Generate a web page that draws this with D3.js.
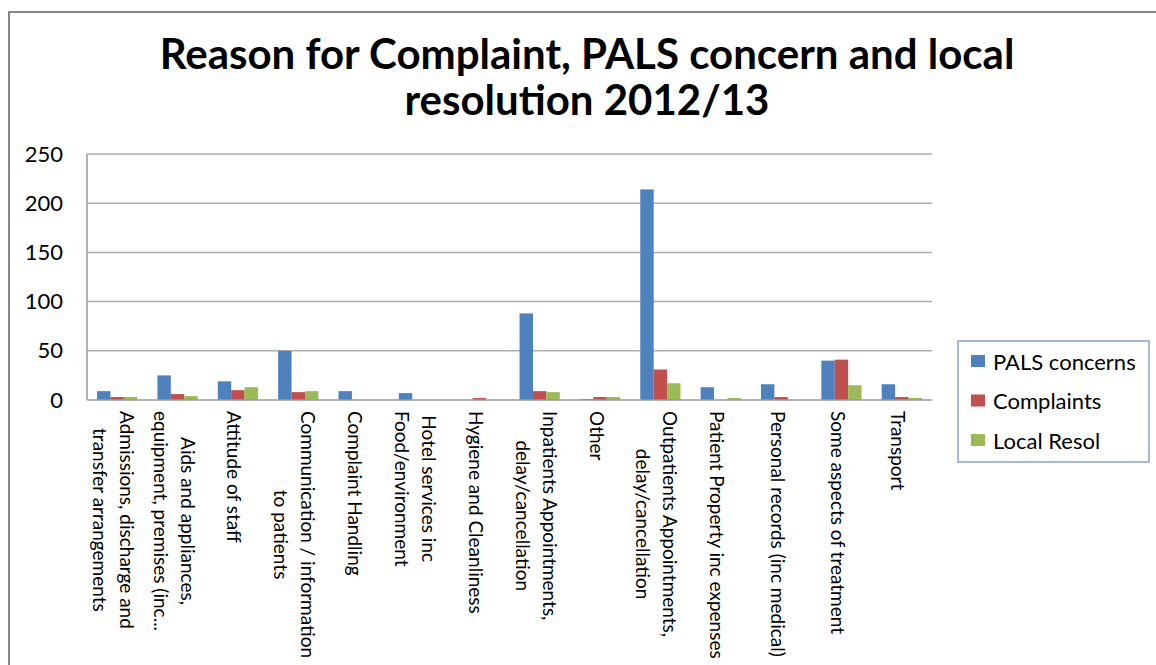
<!DOCTYPE html>
<html>
<head>
<meta charset="utf-8">
<script src="https://cdn.jsdelivr.net/npm/d3@7"></script>
<style>
  html, body { margin: 0; padding: 0; background: #fff; }
  svg { display: block; }
  text { font-family: Lato, "Open Sans", sans-serif; fill: #000; }
</style>
</head>
<body>
<svg id="chart" width="1156" height="665"></svg>
<script>
// Complaint reasons (line breaks mark the wrapped axis labels)
const categories = [
  "Admissions, discharge and\ntransfer arrangements",
  "Aids and appliances,\nequipment, premises (inc...",
  "Attitude of staff",
  "Communication / information\nto patients",
  "Complaint Handling",
  "Hotel services inc\nFood/environment",
  "Hygiene and Cleanliness",
  "Inpatients Appointments,\ndelay/cancellation",
  "Other",
  "Outpatients Appointments,\ndelay/cancellation",
  "Patient Property inc expenses",
  "Personal records (inc medical)",
  "Some aspects of treatment",
  "Transport"
];

const seriesNames = ["PALS concerns", "Complaints", "Local Resol"];
const palsConcerns = [9, 25, 19, 50, 9, 7, 0, 88, 1, 214, 13, 16, 40, 16];
const complaints   = [3, 6, 10, 8, 0, 0, 2, 9, 3, 31, 0, 3, 41, 3];
const localResol   = [3, 4, 13, 9, 0, 0, 0, 8, 3, 17, 2, 0, 15, 2];
const yTicks = [0, 50, 100, 150, 200, 250];
const colors = ["#4f81bd", "#c0504d", "#9bbb59"];

const titleLines = ["Reason for Complaint, PALS concern and local", "resolution 2012/13"];

const seriesValues = [palsConcerns, complaints, localResol];
const rows = categories.map((c, i) => ({
  category: c,
  values: seriesNames.map((s, k) => ({ series: s, value: seriesValues[k][i], k }))
}));

const svg = d3.select("#chart");

// Outer chart frame
svg.append("rect")
  .attr("x", 9).attr("y", 12)
  .attr("width", 1200).attr("height", 700)
  .attr("fill", "#fff")
  .attr("stroke", "#878787").attr("stroke-width", 2);

// Title
svg.append("g").selectAll("text")
  .data(titleLines).join("text")
  .attr("x", 587)
  .attr("y", (d, i) => 69 + i * 46)
  .attr("text-anchor", "middle")
  .attr("font-weight", "bold")
  .attr("font-size", 42)
  .text(d => d);

// Plot area
const plot = { left: 87, right: 932, top: 154, bottom: 400 };

const x0 = d3.scaleBand()
  .domain(categories)
  .range([plot.left, plot.right])
  .paddingInner(1 / 3)
  .paddingOuter(1 / 6);

const x1 = d3.scaleBand()
  .domain(seriesNames)
  .range([0, x0.bandwidth()]);

const y = d3.scaleLinear()
  .domain([0, 250])
  .range([plot.bottom, plot.top]);

// Horizontal gridlines
svg.append("g").selectAll("line")
  .data(yTicks.filter(t => t > 0)).join("line")
  .attr("x1", plot.left).attr("x2", plot.right)
  .attr("y1", d => y(d)).attr("y2", d => y(d))
  .attr("stroke", "#adadad").attr("stroke-width", 1.5);

// Y axis (labels only; the axis line is drawn separately)
const yAxis = svg.append("g")
  .attr("transform", `translate(${plot.left},0)`)
  .call(d3.axisLeft(y).tickValues(yTicks).tickSize(0).tickPadding(24));
yAxis.select(".domain").remove();
yAxis.selectAll("text")
  .attr("font-size", 22)
  .attr("font-family", "Lato, 'Open Sans', sans-serif")
  .attr("fill", "#000");

// Bars
const groups = svg.append("g").selectAll("g")
  .data(rows).join("g")
  .attr("transform", d => `translate(${x0(d.category)},0)`);

groups.selectAll("rect")
  .data(d => d.values).join("rect")
  .attr("x", d => x1(d.series))
  .attr("width", x1.bandwidth())
  .attr("y", d => y(d.value))
  .attr("height", d => y(0) - y(d.value))
  .attr("fill", d => colors[d.k]);

// Axis lines
svg.append("line")
  .attr("x1", plot.left).attr("x2", plot.left)
  .attr("y1", plot.top).attr("y2", plot.bottom)
  .attr("stroke", "#9a9a9a").attr("stroke-width", 1.5);
svg.append("line")
  .attr("x1", plot.left).attr("x2", plot.right)
  .attr("y1", plot.bottom).attr("y2", plot.bottom)
  .attr("stroke", "#9a9a9a").attr("stroke-width", 1.5);

// Category labels, rotated to read downward; wrapped lines are centred on each other
const lineGap = 27;
const labelFont = 19;
const labels = svg.append("g").selectAll("g")
  .data(categories).join("g")
  .attr("transform", d => `translate(${x0(d) + x0.bandwidth() / 2 - 3},411) rotate(90)`);

labels.each(function (d) {
  const g = d3.select(this);
  const lines = d.split("\n");
  const texts = g.selectAll("text")
    .data(lines).join("text")
    .attr("font-size", labelFont)
    .attr("dominant-baseline", "central")
    .attr("text-anchor", "middle")
    .attr("y", (l, i) => (i - (lines.length - 1) / 2) * lineGap)
    .text(l => l);
  let maxLen = 0;
  texts.each(function () { maxLen = Math.max(maxLen, this.getComputedTextLength()); });
  texts.attr("x", maxLen / 2);
});

// Legend
const legend = svg.append("g").attr("transform", "translate(958,341)");
legend.append("rect")
  .attr("width", 191).attr("height", 121)
  .attr("fill", "#fff")
  .attr("stroke", "#86a3cf").attr("stroke-width", 1.5);

const items = legend.selectAll("g")
  .data(seriesNames).join("g")
  .attr("transform", (d, i) => `translate(0,${20 + i * 39.5})`);
items.append("rect")
  .attr("x", 13).attr("y", -6)
  .attr("width", 14).attr("height", 12)
  .attr("fill", (d, i) => colors[i]);
items.append("text")
  .attr("x", 35)
  .attr("dominant-baseline", "central")
  .attr("font-size", 22)
  .text(d => d);
</script>
</body>
</html>
